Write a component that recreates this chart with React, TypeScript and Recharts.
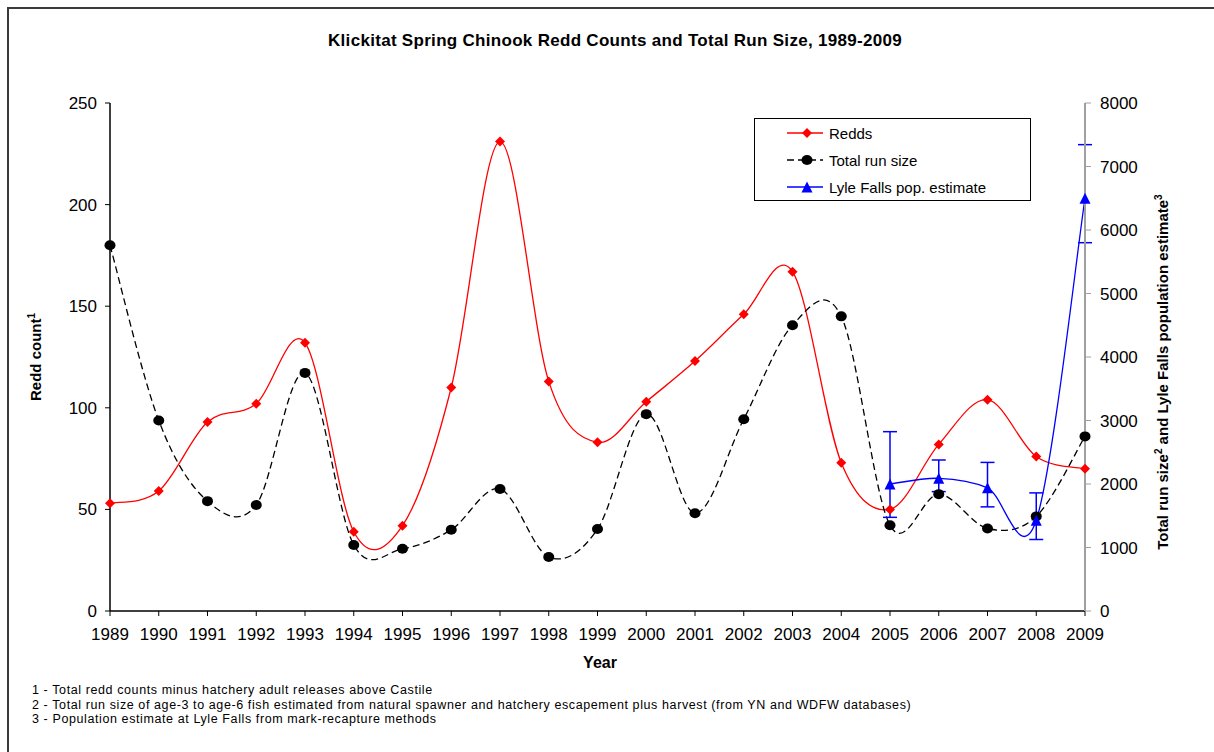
import React from 'react';
import { LineChart, Line, XAxis, YAxis, ErrorBar } from 'recharts';

const years = [1989, 1990, 1991, 1992, 1993, 1994, 1995, 1996, 1997, 1998, 1999, 2000, 2001, 2002, 2003, 2004, 2005, 2006, 2007, 2008, 2009];
const redds = [53, 59, 93, 102, 132, 39, 42, 110, 231, 113, 83, 103, 123, 146, 167, 73, 50, 82, 104, 76, 70];
const totalRunSize = [5760, 3000, 1730, 1670, 3750, 1040, 980, 1280, 1920, 850, 1290, 3100, 1540, 3020, 4500, 4640, 1350, 1840, 1300, 1490, 2750];
const lyleFalls: (number | null)[] = [null, null, null, null, null, null, null, null, null, null, null, null, null, null, null, null, 2000, 2090, 1940, 1430, 6500];
const lyleErrLow: (number | null)[] = [null, null, null, null, null, null, null, null, null, null, null, null, null, null, null, null, 525, 210, 300, 304, 700];
const lyleErrHigh: (number | null)[] = [null, null, null, null, null, null, null, null, null, null, null, null, null, null, null, null, 824, 288, 400, 430, 844];

const leftTicks = [0, 50, 100, 150, 200, 250];
const rightTicks = [0, 1000, 2000, 3000, 4000, 5000, 6000, 7000, 8000];

const titleText = 'Klickitat Spring Chinook Redd Counts and Total Run Size, 1989-2009';
const footnotes = [
  '1 - Total redd counts minus hatchery adult releases above Castile',
  '2 - Total run size of age-3 to age-6 fish estimated from natural spawner and hatchery escapement plus harvest (from YN and WDFW databases)',
  '3 - Population estimate at Lyle Falls from mark-recapture methods',
];
const legendItems = ['Redds', 'Total run size', 'Lyle Falls pop. estimate'];

const data = years.map((year, i) => ({
  year,
  redds: redds[i],
  totalRunSize: totalRunSize[i],
  lyle: lyleFalls[i],
  lyleErr: lyleFalls[i] == null ? null : [lyleErrLow[i], lyleErrHigh[i]],
}));

// Excel-like smoothed line (Catmull-Rom with 1/6 tension)
const excelCurve: any = (context: any) => {
  let pts: number[][] = [];
  return {
    areaStart() {},
    areaEnd() {},
    lineStart() {
      pts = [];
    },
    lineEnd() {
      const n = pts.length;
      if (!n) return;
      context.moveTo(pts[0][0], pts[0][1]);
      for (let i = 0; i < n - 1; i++) {
        const p0 = pts[i > 0 ? i - 1 : 0];
        const p1 = pts[i];
        const p2 = pts[i + 1];
        const p3 = pts[i + 2 < n ? i + 2 : n - 1];
        context.bezierCurveTo(
          p1[0] + (p2[0] - p0[0]) / 6,
          p1[1] + (p2[1] - p0[1]) / 6,
          p2[0] - (p3[0] - p1[0]) / 6,
          p2[1] - (p3[1] - p1[1]) / 6,
          p2[0],
          p2[1]
        );
      }
    },
    point(x: number, y: number) {
      pts.push([+x, +y]);
    },
  };
};

const ok = (p: any) => p && typeof p.cx === 'number' && typeof p.cy === 'number' && isFinite(p.cy) && p.value != null;

const DiamondDot = (p: any) => {
  if (!ok(p)) return <g key={p.key} />;
  const r = 5;
  return <path key={p.key} d={`M${p.cx},${p.cy - r}L${p.cx + r},${p.cy}L${p.cx},${p.cy + r}L${p.cx - r},${p.cy}Z`} fill="#FF0000" />;
};
const CircleDot = (p: any) => {
  if (!ok(p)) return <g key={p.key} />;
  return <ellipse key={p.key} cx={p.cx} cy={p.cy} rx={5.5} ry={5} fill="#000" />;
};
const TriangleDot = (p: any) => {
  if (!ok(p)) return <g key={p.key} />;
  const h = 5.5;
  return <path key={p.key} d={`M${p.cx},${p.cy - h}L${p.cx + h},${p.cy + h}L${p.cx - h},${p.cy + h}Z`} fill="#0000FF" />;
};

const FONT = '"Liberation Sans", Arial, sans-serif';

export default function App() {
  return (
    <div style={{ position: 'fixed', left: 0, top: 0, width: 1214, height: 752, overflow: 'hidden', background: '#fff', fontFamily: FONT }}>
      <div style={{ position: 'absolute', left: 7, top: 7, width: 1240, height: 800, border: '2px solid #3a3a3a', boxSizing: 'border-box' }} />
      <div style={{ position: 'absolute', left: 0, top: 0 }}>
        <LineChart width={1214} height={752} data={data} margin={{ top: 103, right: 69, bottom: 111, left: 50 }}>
          <XAxis
            dataKey="year"
            type="number"
            domain={[1989, 2009]}
            ticks={years}
            interval={0}
            allowDecimals={false}
            height={30}
            tickSize={5}
            tickMargin={12}
            axisLine={{ stroke: '#000', strokeWidth: 1.5 }}
            tickLine={{ stroke: '#000' }}
            tick={{ fill: '#000', fontSize: 17, fontFamily: FONT }}
          />
          <YAxis
            yAxisId="left"
            domain={[0, 250]}
            ticks={leftTicks}
            interval={0}
            width={60}
            tickSize={5}
            tickMargin={8}
            axisLine={{ stroke: '#000', strokeWidth: 1.5 }}
            tickLine={{ stroke: '#000' }}
            tick={{ fill: '#000', fontSize: 17, fontFamily: FONT }}
          />
          <YAxis
            yAxisId="right"
            orientation="right"
            domain={[0, 8000]}
            ticks={rightTicks}
            interval={0}
            width={60}
            tickSize={6}
            tickMargin={9}
            axisLine={{ stroke: '#a0a0a0', strokeWidth: 2 }}
            tickLine={{ stroke: '#a0a0a0' }}
            tick={{ fill: '#000', fontSize: 17, fontFamily: FONT }}
          />
          <Line
            yAxisId="left"
            dataKey="redds"
            type={excelCurve}
            stroke="#FF0000"
            strokeWidth={1.3}
            dot={DiamondDot}
            activeDot={false}
            isAnimationActive={false}
          />
          <Line
            yAxisId="right"
            dataKey="totalRunSize"
            type={excelCurve}
            stroke="#000"
            strokeWidth={1.3}
            strokeDasharray="7 4"
            dot={CircleDot}
            activeDot={false}
            isAnimationActive={false}
          />
          <Line
            yAxisId="right"
            dataKey="lyle"
            type={excelCurve}
            stroke="#0000FF"
            strokeWidth={1.3}
            dot={TriangleDot}
            activeDot={false}
            connectNulls={false}
            isAnimationActive={false}
          >
            <ErrorBar dataKey="lyleErr" direction="y" width={7} stroke="#0000FF" strokeWidth={1.5} />
          </Line>
        </LineChart>
      </div>
      <svg width={1214} height={752} style={{ position: 'absolute', left: 0, top: 0, pointerEvents: 'none' }} fontFamily={FONT}>
        <text x={615} y={46} textAnchor="middle" fontSize={17} letterSpacing={0.3} fontWeight="bold" fill="#000">{titleText}</text>
        <text x={600} y={668} textAnchor="middle" fontSize={16} fontWeight="bold" fill="#000">Year</text>
        <text transform="translate(41,357) rotate(-90)" textAnchor="middle" fontSize={15} fontWeight="bold" fill="#000">
          Redd count<tspan fontSize={10} dy={-6}>1</tspan>
        </text>
        <text transform="translate(1168,372) rotate(-90)" textAnchor="middle" fontSize={15} fontWeight="bold" fill="#000">
          Total run size<tspan fontSize={10} dy={-6}>2</tspan>
          <tspan dy={6}> and Lyle Falls population estimate</tspan>
          <tspan fontSize={10} dy={-6}>3</tspan>
        </text>
        {footnotes.map((f, i) => (
          <text key={i} x={32} y={694 + i * 14.5} fontSize={12.5} letterSpacing={0.6} fill="#000">{f}</text>
        ))}
        <rect x={754.5} y={118.5} width={276} height={82} fill="#fff" stroke="#000" strokeWidth={1} />
        {legendItems.map((label, i) => {
          const y = 133 + i * 27;
          return (
            <g key={label}>
              {i === 0 && (
                <g>
                  <line x1={787} x2={823} y1={y} y2={y} stroke="#FF0000" strokeWidth={1.3} />
                  <path d={`M807,${y - 5}L812,${y}L807,${y + 5}L802,${y}Z`} fill="#FF0000" />
                </g>
              )}
              {i === 1 && (
                <g>
                  <line x1={787} x2={823} y1={y} y2={y} stroke="#000" strokeWidth={1.3} strokeDasharray="7 4" />
                  <ellipse cx={807} cy={y} rx={5.5} ry={5} fill="#000" />
                </g>
              )}
              {i === 2 && (
                <g>
                  <line x1={787} x2={823} y1={y} y2={y} stroke="#0000FF" strokeWidth={1.3} />
                  <path d={`M807,${y - 5.5}L812.5,${y + 5.5}L801.5,${y + 5.5}Z`} fill="#0000FF" />
                </g>
              )}
              <text x={829} y={y + 5.5} fontSize={15} fill="#000">{label}</text>
            </g>
          );
        })}
      </svg>
    </div>
  );
}
